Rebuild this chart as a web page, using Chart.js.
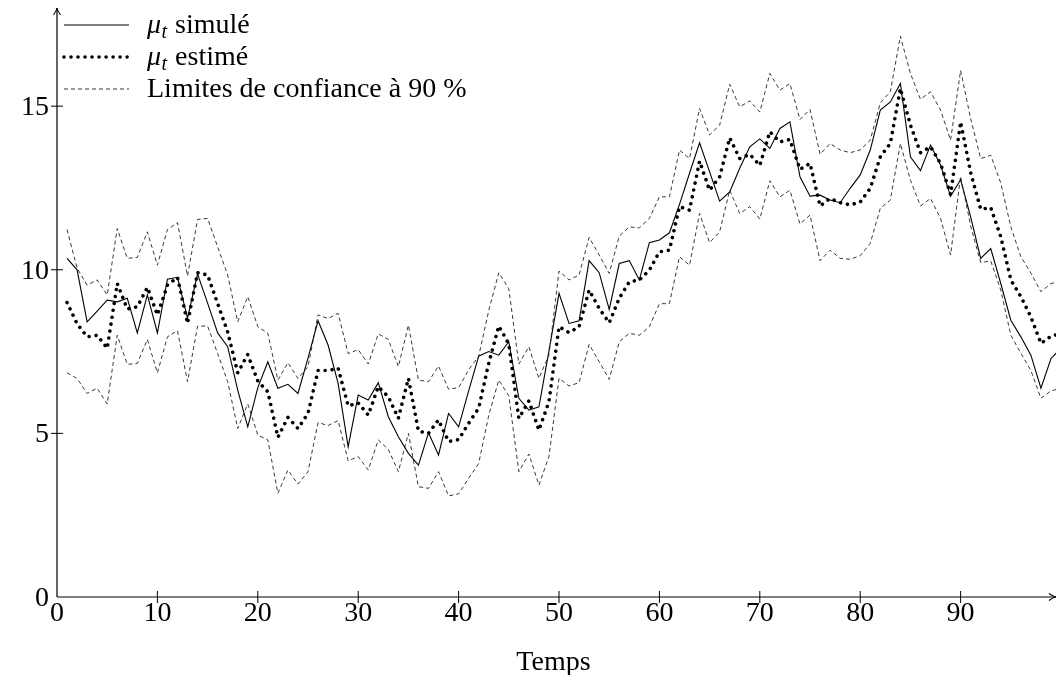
<!DOCTYPE html>
<html>
<head>
<meta charset="utf-8">
<script src="https://cdn.jsdelivr.net/npm/chart.js@4"></script>
<style>html,body{margin:0;padding:0;background:#fff;}canvas{display:block;}</style>
</head>
<body>
<canvas id="c" width="1056" height="675"></canvas>
<script>
// ---- data ----
const temps = Array.from({length: 100}, (_, i) => i + 1);
const muSimule = [10.35,10.0,8.41,8.74,9.07,9.02,9.13,8.07,9.23,8.07,
  9.71,9.77,8.52,9.87,8.98,8.07,7.65,6.32,5.2,6.4,
  7.19,6.38,6.5,6.22,7.3,8.44,7.7,6.53,4.59,6.17,
  6.02,6.55,5.51,4.9,4.39,4.03,5.02,4.34,5.61,5.2,
  6.3,7.36,7.5,7.39,7.8,6.07,5.71,5.81,7.52,9.28,
  8.36,8.44,10.28,9.91,8.79,10.19,10.28,9.69,10.83,10.91,
  11.13,12.0,12.95,13.88,12.99,12.1,12.38,13.1,13.76,14.0,
  13.71,14.32,14.52,12.84,12.25,12.28,12.13,12.05,12.49,12.9,
  13.66,14.88,15.13,15.69,13.45,13.03,13.81,13.2,12.25,12.75,
  11.62,10.35,10.65,9.58,8.46,7.95,7.39,6.38,7.29,7.6];
const muEstime = [9.0,8.35,7.95,8.0,7.6,9.58,8.8,8.87,9.46,8.62,
  9.53,9.77,8.36,9.91,9.84,8.97,8.1,6.85,7.41,6.6,
  6.27,4.88,5.49,5.15,5.61,6.92,6.92,6.99,5.84,5.93,
  5.56,6.43,6.12,5.46,6.68,5.07,5.0,5.41,4.75,4.81,
  5.31,5.77,7.14,8.28,7.73,5.46,5.99,5.1,5.97,8.26,
  8.08,8.26,9.38,8.82,8.38,9.13,9.63,9.69,9.99,10.55,
  10.6,11.93,11.82,13.32,12.43,12.84,14.03,13.4,13.53,13.19,
  14.22,13.91,13.98,13.07,13.25,11.95,12.18,12.05,11.98,12.07,
  12.49,13.45,13.86,15.54,14.42,13.58,13.76,13.25,12.3,14.52,
  12.97,11.85,11.9,11.01,9.69,9.18,8.56,7.75,7.97,8.05];
const limSup = [11.23,10.05,9.53,9.69,9.23,11.26,10.35,10.38,11.16,10.14,
  11.23,11.44,9.81,11.54,11.57,10.7,9.84,8.41,9.18,8.26,
  8.06,6.63,7.16,6.68,7.04,8.62,8.51,8.67,7.44,7.56,
  7.12,8.04,7.87,7.04,8.31,6.63,6.58,7.06,6.35,6.4,
  6.94,7.36,8.75,9.91,9.42,7.12,7.65,6.68,7.4,9.96,
  9.69,9.84,10.99,10.45,9.89,11.03,11.31,11.28,11.57,12.23,
  12.23,13.66,13.4,14.93,14.12,14.42,15.67,14.98,15.16,14.82,
  16.0,15.49,15.69,14.59,14.9,13.53,13.86,13.66,13.58,13.66,
  13.96,15.1,15.44,17.14,16.0,15.21,15.44,14.88,13.96,16.09,
  14.62,13.4,13.5,12.65,11.31,10.4,9.9,9.33,9.58,9.65];
const limInf = [6.85,6.68,6.22,6.38,5.9,8.0,7.11,7.14,7.87,6.85,
  7.95,8.14,6.58,8.28,8.28,7.44,6.58,5.15,5.9,4.95,
  4.8,3.17,3.88,3.45,3.83,5.33,5.24,5.39,4.16,4.29,
  3.88,4.8,4.51,3.83,5.0,3.37,3.32,3.83,3.09,3.15,
  3.63,4.08,5.55,6.63,6.15,3.83,4.37,3.42,4.3,6.68,
  6.45,6.55,7.72,7.19,6.65,7.8,8.06,8.0,8.26,8.96,
  8.97,10.4,10.14,11.72,10.83,11.16,12.43,11.72,11.93,11.55,
  12.72,12.23,12.43,11.4,11.67,10.28,10.6,10.35,10.32,10.43,
  10.81,11.88,12.13,13.86,12.74,11.95,12.18,11.57,10.45,12.86,
  11.34,10.22,10.27,9.38,8.0,7.45,6.92,6.07,6.3,6.38];
const xTicks = [0,10,20,30,40,50,60,70,80,90];
const yTicks = [0,5,10,15];
const xTitle = 'Temps';
const legendSymbol = ['μ','μ',''];
const legendText = ['simulé','estimé','Limites de confiance à 90 %'];

// ---- styles ----
const FONT = "'Liberation Serif', 'DejaVu Serif', serif";
const styleSolid = {borderColor:'#000', borderWidth:1.1, borderDash:[]};
const styleDots = {borderColor:'#000', borderWidth:3.6, borderDash:[0.01,7], borderCapStyle:'round'};
const styleDash = {borderColor:'#222', borderWidth:0.9, borderDash:[4,3]};
const legendStyles = [styleSolid, styleDots, styleDash];

const pts = arr => temps.map((t,i)=>({x:t, y:arr[i]}));

function applyStyle(ctx, s){
  ctx.strokeStyle = s.borderColor; ctx.lineWidth = s.borderWidth;
  ctx.setLineDash(s.borderDash || []); ctx.lineCap = s.borderCapStyle || 'butt';
}

const axesPlugin = {
  id: 'texAxes',
  afterDraw(chart){
    const ctx = chart.ctx, xs = chart.scales.x, ys = chart.scales.y;
    const x0 = xs.getPixelForValue(0), y0 = ys.getPixelForValue(0);
    const xEnd = xs.right, yTop = ys.top;
    ctx.save();
    ctx.strokeStyle = '#000'; ctx.lineWidth = 1.2; ctx.setLineDash([]);
    // axis lines
    ctx.beginPath();
    ctx.moveTo(x0, y0); ctx.lineTo(xEnd, y0);
    ctx.moveTo(x0, y0); ctx.lineTo(x0, yTop);
    ctx.stroke();
    // arrow heads
    ctx.lineWidth = 1.1;
    ctx.beginPath();
    ctx.moveTo(x0 - 3.5, yTop + 7); ctx.quadraticCurveTo(x0 - 0.5, yTop + 3, x0, yTop);
    ctx.moveTo(x0 + 3.5, yTop + 7); ctx.quadraticCurveTo(x0 + 0.5, yTop + 3, x0, yTop);
    ctx.moveTo(xEnd - 7, y0 - 3.5); ctx.quadraticCurveTo(xEnd - 3, y0 - 0.5, xEnd, y0);
    ctx.moveTo(xEnd - 7, y0 + 3.5); ctx.quadraticCurveTo(xEnd - 3, y0 + 0.5, xEnd, y0);
    ctx.stroke();
    // ticks
    ctx.lineWidth = 1;
    ctx.beginPath();
    xTicks.forEach(v => { const p = xs.getPixelForValue(v); if (v !== 0) { ctx.moveTo(p, y0 - 6); ctx.lineTo(p, y0 + 6); } });
    yTicks.forEach(v => { const p = ys.getPixelForValue(v); if (v !== 0) { ctx.moveTo(x0 - 6, p); ctx.lineTo(x0 + 6, p); } });
    ctx.stroke();
    // tick labels
    ctx.fillStyle = '#000';
    ctx.font = '28px ' + FONT;
    ctx.textAlign = 'center'; ctx.textBaseline = 'alphabetic';
    xTicks.forEach(v => ctx.fillText(String(v), xs.getPixelForValue(v), y0 + 24));
    ctx.textAlign = 'right';
    yTicks.forEach(v => ctx.fillText(String(v), x0 - 8, ys.getPixelForValue(v) + 9));
    // axis title
    ctx.textAlign = 'center';
    ctx.fillText(xTitle, (xs.left + xs.right) / 2 - 3, y0 + 73);
    // legend
    legendText.forEach((txt, i) => {
      const ly = 25 + 32 * i;
      ctx.save();
      applyStyle(ctx, legendStyles[i]);
      ctx.beginPath(); ctx.moveTo(64, ly); ctx.lineTo(129, ly); ctx.stroke();
      ctx.restore();
      let tx = 147; const base = ly + 8;
      ctx.textAlign = 'left';
      if (legendSymbol[i]) {
        ctx.font = 'italic 28px ' + FONT;
        ctx.fillText(legendSymbol[i], tx, base);
        tx += ctx.measureText(legendSymbol[i]).width + 0.5;
        ctx.font = 'italic 20px ' + FONT;
        ctx.fillText('t', tx, base + 5);
        tx += ctx.measureText('t').width + 8;
      }
      ctx.font = '28px ' + FONT;
      ctx.fillText(txt, tx, base);
    });
    ctx.restore();
  }
};

new Chart(document.getElementById('c'), {
  type: 'line',
  data: {
    datasets: [
      Object.assign({label:'Limite supérieure', data: pts(limSup)}, styleDash),
      Object.assign({label:'Limite inférieure', data: pts(limInf)}, styleDash),
      Object.assign({label:'μt simulé', data: pts(muSimule)}, styleSolid),
      Object.assign({label:'μt estimé', data: pts(muEstime)}, styleDots)
    ]
  },
  options: {
    responsive: false,
    devicePixelRatio: 1,
    animation: false,
    parsing: true,
    layout: {padding: {left: 57, right: 0, top: 8, bottom: 78}},
    elements: {point: {radius: 0}, line: {tension: 0, fill: false}},
    plugins: {legend: {display: false}, tooltip: {enabled: false}},
    scales: {
      x: {type: 'linear', min: 0, max: 99.5, display: false},
      y: {type: 'linear', min: 0, max: 18, display: false}
    }
  },
  plugins: [axesPlugin]
});
</script>
</body>
</html>
